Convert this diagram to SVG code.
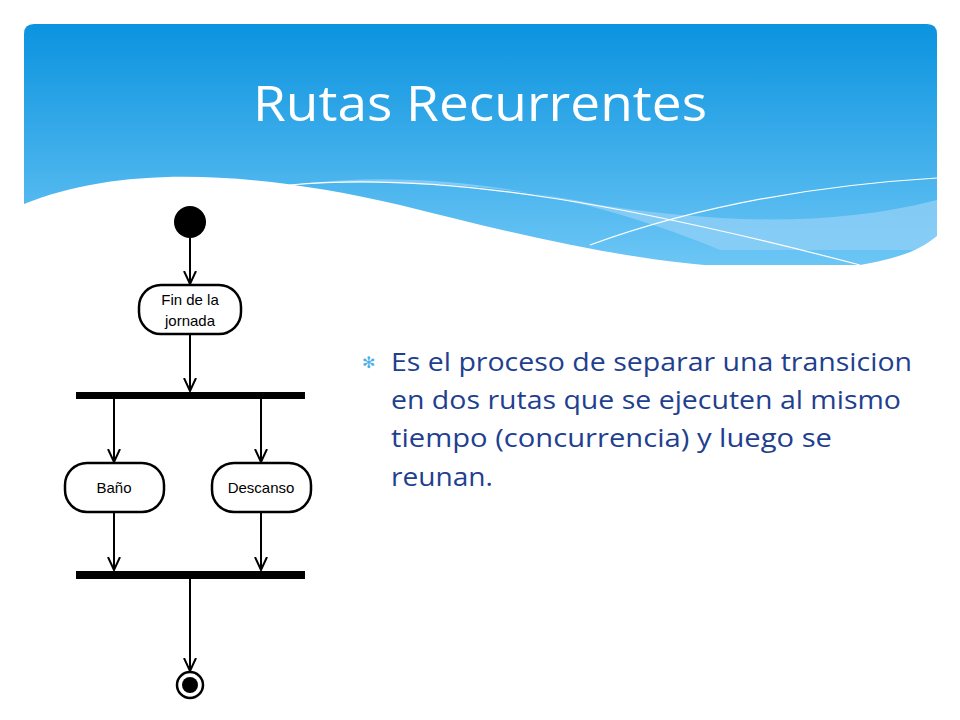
<svg xmlns="http://www.w3.org/2000/svg" width="960" height="720" viewBox="0 0 960 720">
<defs>
<linearGradient id="hg" x1="0" y1="0" x2="0" y2="1">
<stop offset="0" stop-color="#0b93df"/><stop offset="1" stop-color="#6cc6f5"/>
</linearGradient>
<marker id="ar" markerWidth="14" markerHeight="14" refX="13" refY="6" orient="auto" markerUnits="userSpaceOnUse" viewBox="0 0 14 12">
<path d="M0,0 L13,6 L0,12" fill="none" stroke="#000" stroke-width="2"/>
</marker>
<style>
.n{fill:#fff;stroke:#000;stroke-width:2.5}
.t{font-family:"Liberation Sans",Arial,sans-serif;font-size:15px;fill:#000;text-anchor:middle}
.c{stroke:#000;stroke-width:2;fill:none;marker-end:url(#ar)}
</style>
</defs>
<rect width="960" height="720" fill="#fff"/>
<path d="M24,34 Q24,24 34,24 L927,24 Q937,24 937,34 L937,265 L24,265 Z" fill="url(#hg)"/>
<path d="M290,185 C450,165 600,200 720,250 L937,250 L937,200 C820,230 700,220 600,205 C500,185 400,178 290,185 Z" fill="#8fd0f6" opacity="0.8"/>
<path d="M24,204 C120,165 250,170 400,205 C560,245 700,280 860,265 C900,258 920,250 937,236 L937,300 L24,300 Z" fill="#fff"/>
<path d="M290,185 C450,170 650,210 860,265" fill="none" stroke="#fff" stroke-width="1.2"/>
<path d="M590,245 C700,205 820,185 937,178" fill="none" stroke="#fff" stroke-width="1.2"/>
<text x="253" y="121" font-family="Open Sans,Lato,sans-serif" font-size="50" fill="#fff" textLength="454" lengthAdjust="spacingAndGlyphs">Rutas Recurrentes</text>
<g font-family="Open Sans,Lato,sans-serif" font-size="25" fill="#1f3f8f" lengthAdjust="spacingAndGlyphs">
<text x="362" y="368" font-size="16" fill="#4aaee8">✻</text>
<text x="391" y="371" textLength="521" lengthAdjust="spacingAndGlyphs">Es el proceso de separar una transicion</text>
<text x="391" y="409" textLength="510" lengthAdjust="spacingAndGlyphs">en dos rutas que se ejecuten al mismo</text>
<text x="391" y="447" textLength="441" lengthAdjust="spacingAndGlyphs">tiempo (concurrencia) y luego se</text>
<text x="391" y="486" textLength="102" lengthAdjust="spacingAndGlyphs">reunan.</text>
</g>
<g id="connectors">
<line class="c" x1="190" y1="238" x2="190" y2="284"/>
<line class="c" x1="190" y1="335" x2="190" y2="391"/>
<line class="c" x1="114" y1="399" x2="114" y2="462"/>
<line class="c" x1="261" y1="399" x2="261" y2="462"/>
<line class="c" x1="114" y1="513" x2="114" y2="570"/>
<line class="c" x1="261" y1="513" x2="261" y2="570"/>
<line class="c" x1="190" y1="579" x2="190" y2="671"/>
</g>
<g id="start"><circle cx="190" cy="222" r="16" fill="#000"/></g>
<g id="fin"><rect class="n" x="139" y="285" width="102" height="49" rx="22"/><text class="t" x="190" y="305">Fin de la</text><text class="t" x="190" y="326">jornada</text></g>
<g id="fork"><rect x="76" y="392" width="229" height="7" fill="#000"/></g>
<g id="bano"><rect class="n" x="65" y="463" width="99" height="49" rx="22"/><text class="t" x="114" y="493">Baño</text></g>
<g id="descanso"><rect class="n" x="212" y="463" width="99" height="49" rx="22"/><text class="t" x="261" y="493">Descanso</text></g>
<g id="join"><rect x="76" y="571" width="229" height="8" fill="#000"/></g>
<g id="end"><circle cx="190" cy="685" r="13" fill="#fff" stroke="#000" stroke-width="2.5"/><circle cx="190" cy="685" r="8" fill="#000"/></g>
</svg>
